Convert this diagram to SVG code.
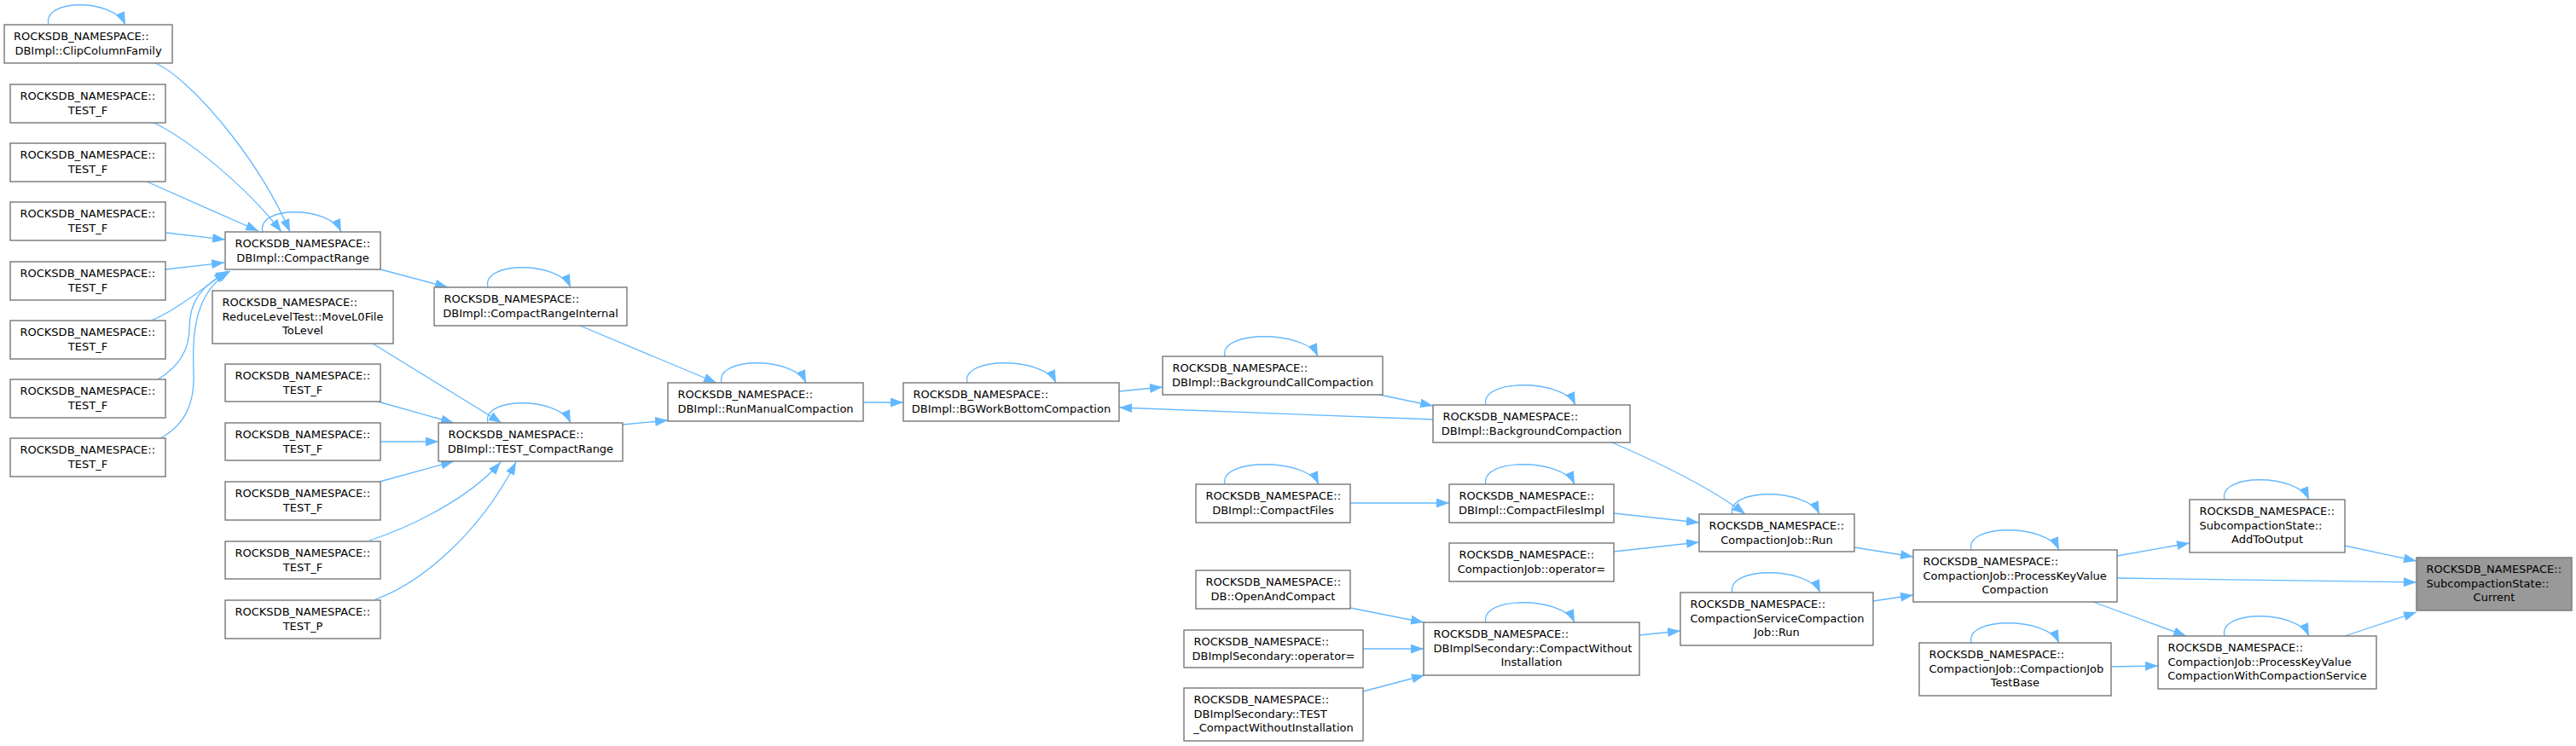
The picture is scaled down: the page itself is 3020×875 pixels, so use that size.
<svg xmlns="http://www.w3.org/2000/svg" width="3020" height="875" viewBox="0 0 3020 875">
<style>
.node rect{fill:#ffffff;stroke:#777777;stroke-width:1.4}
.node.hl rect{fill:#999999}
.node text{font-family:"DejaVu Sans","Liberation Sans",sans-serif;font-size:13px;fill:#000000}
.node text.c{text-anchor:middle}
.edges path{fill:none;stroke:#63b8ff;stroke-width:1.3;marker-end:url(#ah)}
</style>
<defs>
<marker id="ah" markerUnits="userSpaceOnUse" markerWidth="16" markerHeight="12" refX="15" refY="5.5" orient="auto"><path d="M0,0 L15,5.5 L0,11 z" fill="#63b8ff" stroke="none"/></marker>
</defs>
<rect x="0" y="0" width="3020" height="875" fill="#ffffff"/>
<g class="edges" id="connectors">
<!-- self loops -->
<path d="M57,29 C49,-2 133,-2 147,29"/>
<path d="M308,272 C300,241 386,241 400,272"/>
<path d="M572,337 C564,306 655,306 669,337"/>
<path d="M572,496 C564,465 655,465 669,496"/>
<path d="M846,449 C838,418 931,418 945,449"/>
<path d="M1134,449 C1126,418 1224,418 1238,449"/>
<path d="M1436,418 C1428,387 1531,387 1545,418"/>
<path d="M1742,475 C1734,444 1833,444 1847,475"/>
<path d="M1436,568 C1428,537 1532,537 1546,568"/>
<path d="M1742,568 C1734,537 1832,537 1846,568"/>
<path d="M1742,730 C1734,699 1832,699 1846,730"/>
<path d="M2031,603 C2023,572 2119,572 2133,603"/>
<path d="M2031,695 C2023,664 2120,664 2134,695"/>
<path d="M2311,645 C2303,614 2400,614 2414,645"/>
<path d="M2311,754 C2303,723 2400,723 2414,754"/>
<path d="M2608,586 C2600,555 2693,555 2707,586"/>
<path d="M2608,746 C2600,715 2693,715 2707,746"/>
<!-- into CompactRange -->
<path d="M182,74 C220,90 300,180 340,272"/>
<path d="M178,143 C220,162 290,220 330,272"/>
<path d="M172,213 L303,271"/>
<path d="M195,273 L264,281"/>
<path d="M194,316 L263,308"/>
<path d="M177,376 C200,367 230,345 266,318"/>
<path d="M185,445 C210,430 222,410 222,385 C222,355 235,335 268,318"/>
<path d="M188,514 C215,500 228,475 227,440 C226,400 224,345 270,318"/>
<!-- into TEST_CompactRange -->
<path d="M437,403 L588,496"/>
<path d="M443,471 L532,496"/>
<path d="M446,518 L514,518"/>
<path d="M445,565 L532,541"/>
<path d="M433,634 C470,622 545,590 587,542"/>
<path d="M440,703 C490,685 560,630 605,542"/>
<!-- middle chain -->
<path d="M446,316 L525,337"/>
<path d="M680,382 L840,449"/>
<path d="M730,498 L783,493"/>
<path d="M1012,472 L1059,472"/>
<path d="M1312,459 L1363,454"/>
<path d="M1617,463 L1680,476"/>
<path d="M1680,492 L1312,478"/>
<path d="M1890,519 C1950,545 2010,575 2046,603"/>
<path d="M1583,590 L1699,590"/>
<path d="M1892,602 L1992,613"/>
<path d="M1892,647 L1992,636"/>
<path d="M1583,713 L1669,730"/>
<path d="M1598,761 L1669,761"/>
<path d="M1598,811 L1670,792"/>
<path d="M1922,745 L1970,740"/>
<path d="M2174,642 L2243,653"/>
<path d="M2196,705 L2243,698"/>
<path d="M2475,782 L2530,781"/>
<path d="M2482,652 L2567,637"/>
<path d="M2482,678 L2833,683"/>
<path d="M2454,706 L2563,746"/>
<path d="M2749,640 L2833,658"/>
<path d="M2749,746 L2833,718"/>
</g>

<g class="node" id="n_clip"><rect x="5" y="29" width="197" height="45"/><text x="16" y="47">ROCKSDB_NAMESPACE::</text><text class="c" x="103.5" y="63.7">DBImpl::ClipColumnFamily</text></g>
<g class="node" id="n_tf1"><rect x="12" y="99" width="182" height="45"/><text x="23.5" y="117">ROCKSDB_NAMESPACE::</text><text class="c" x="103" y="133.7">TEST_F</text></g>
<g class="node" id="n_tf2"><rect x="12" y="168" width="182" height="45"/><text x="23.5" y="186">ROCKSDB_NAMESPACE::</text><text class="c" x="103" y="202.7">TEST_F</text></g>
<g class="node" id="n_tf3"><rect x="12" y="237" width="182" height="45"/><text x="23.5" y="255">ROCKSDB_NAMESPACE::</text><text class="c" x="103" y="271.7">TEST_F</text></g>
<g class="node" id="n_tf4"><rect x="12" y="307" width="182" height="45"/><text x="23.5" y="325">ROCKSDB_NAMESPACE::</text><text class="c" x="103" y="341.7">TEST_F</text></g>
<g class="node" id="n_tf5"><rect x="12" y="376" width="182" height="45"/><text x="23.5" y="394">ROCKSDB_NAMESPACE::</text><text class="c" x="103" y="410.7">TEST_F</text></g>
<g class="node" id="n_tf6"><rect x="12" y="445" width="182" height="45"/><text x="23.5" y="463">ROCKSDB_NAMESPACE::</text><text class="c" x="103" y="479.7">TEST_F</text></g>
<g class="node" id="n_tf7"><rect x="12" y="514" width="182" height="45"/><text x="23.5" y="532">ROCKSDB_NAMESPACE::</text><text class="c" x="103" y="548.7">TEST_F</text></g>

<g class="node" id="n_compactrange"><rect x="264" y="272" width="182" height="44"/><text x="275.5" y="290">ROCKSDB_NAMESPACE::</text><text class="c" x="355" y="306.7">DBImpl::CompactRange</text></g>
<g class="node" id="n_reducelevel"><rect x="249" y="341" width="212" height="62"/><text x="260.5" y="359">ROCKSDB_NAMESPACE::</text><text x="260.5" y="375.7">ReduceLevelTest::MoveL0File</text><text class="c" x="355" y="392.4">ToLevel</text></g>
<g class="node" id="n_tr1"><rect x="264" y="427" width="182" height="44"/><text x="275.5" y="445">ROCKSDB_NAMESPACE::</text><text class="c" x="355" y="461.7">TEST_F</text></g>
<g class="node" id="n_tr2"><rect x="264" y="496" width="182" height="44"/><text x="275.5" y="514">ROCKSDB_NAMESPACE::</text><text class="c" x="355" y="530.7">TEST_F</text></g>
<g class="node" id="n_tr3"><rect x="264" y="565" width="182" height="45"/><text x="275.5" y="583">ROCKSDB_NAMESPACE::</text><text class="c" x="355" y="599.7">TEST_F</text></g>
<g class="node" id="n_tr4"><rect x="264" y="635" width="182" height="44"/><text x="275.5" y="653">ROCKSDB_NAMESPACE::</text><text class="c" x="355" y="669.7">TEST_F</text></g>
<g class="node" id="n_testp"><rect x="264" y="704" width="182" height="45"/><text x="275.5" y="722">ROCKSDB_NAMESPACE::</text><text class="c" x="355" y="738.7">TEST_P</text></g>

<g class="node" id="n_cri"><rect x="509" y="337" width="226" height="45"/><text x="520.5" y="355">ROCKSDB_NAMESPACE::</text><text class="c" x="622" y="371.7">DBImpl::CompactRangeInternal</text></g>
<g class="node" id="n_tcr"><rect x="514" y="496" width="216" height="45"/><text x="525.5" y="514">ROCKSDB_NAMESPACE::</text><text class="c" x="622" y="530.7">DBImpl::TEST_CompactRange</text></g>
<g class="node" id="n_rmc"><rect x="783" y="449" width="229" height="45"/><text x="794.5" y="467">ROCKSDB_NAMESPACE::</text><text class="c" x="897.5" y="483.7">DBImpl::RunManualCompaction</text></g>
<g class="node" id="n_bgw"><rect x="1059" y="449" width="253" height="45"/><text x="1070.5" y="467">ROCKSDB_NAMESPACE::</text><text class="c" x="1185.5" y="483.7">DBImpl::BGWorkBottomCompaction</text></g>
<g class="node" id="n_bgc"><rect x="1363" y="418" width="258" height="45"/><text x="1374.5" y="436">ROCKSDB_NAMESPACE::</text><text class="c" x="1492" y="452.7">DBImpl::BackgroundCallCompaction</text></g>
<g class="node" id="n_bc"><rect x="1680" y="475" width="231" height="44"/><text x="1691.5" y="493">ROCKSDB_NAMESPACE::</text><text class="c" x="1795.5" y="509.7">DBImpl::BackgroundCompaction</text></g>
<g class="node" id="n_cf"><rect x="1402" y="568" width="181" height="45"/><text x="1413.5" y="586">ROCKSDB_NAMESPACE::</text><text class="c" x="1492.5" y="602.7">DBImpl::CompactFiles</text></g>
<g class="node" id="n_cfi"><rect x="1699" y="568" width="193" height="45"/><text x="1710.5" y="586">ROCKSDB_NAMESPACE::</text><text class="c" x="1795.5" y="602.7">DBImpl::CompactFilesImpl</text></g>
<g class="node" id="n_cjop"><rect x="1699" y="637" width="193" height="45"/><text x="1710.5" y="655">ROCKSDB_NAMESPACE::</text><text class="c" x="1795.5" y="671.7">CompactionJob::operator=</text></g>
<g class="node" id="n_run"><rect x="1992" y="603" width="182" height="44"/><text x="2003.5" y="621">ROCKSDB_NAMESPACE::</text><text class="c" x="2083" y="637.7">CompactionJob::Run</text></g>
<g class="node" id="n_oac"><rect x="1402" y="669" width="181" height="45"/><text x="1413.5" y="687">ROCKSDB_NAMESPACE::</text><text class="c" x="1492.5" y="703.7">DB::OpenAndCompact</text></g>
<g class="node" id="n_disop"><rect x="1388" y="739" width="210" height="44"/><text x="1399.5" y="757">ROCKSDB_NAMESPACE::</text><text class="c" x="1493" y="773.7">DBImplSecondary::operator=</text></g>
<g class="node" id="n_distest"><rect x="1388" y="807" width="210" height="62"/><text x="1399.5" y="825">ROCKSDB_NAMESPACE::</text><text x="1399.5" y="841.7">DBImplSecondary::TEST</text><text class="c" x="1493" y="858.4">_CompactWithoutInstallation</text></g>
<g class="node" id="n_cwi"><rect x="1669" y="730" width="253" height="62"/><text x="1680.5" y="748">ROCKSDB_NAMESPACE::</text><text x="1680.5" y="764.7">DBImplSecondary::CompactWithout</text><text class="c" x="1795.5" y="781.4">Installation</text></g>
<g class="node" id="n_cscj"><rect x="1970" y="695" width="226" height="62"/><text x="1981.5" y="713">ROCKSDB_NAMESPACE::</text><text x="1981.5" y="729.7">CompactionServiceCompaction</text><text class="c" x="2083" y="746.4">Job::Run</text></g>
<g class="node" id="n_pkvc"><rect x="2243" y="645" width="239" height="61"/><text x="2254.5" y="663">ROCKSDB_NAMESPACE::</text><text x="2254.5" y="679.7">CompactionJob::ProcessKeyValue</text><text class="c" x="2362.5" y="696.4">Compaction</text></g>
<g class="node" id="n_cjtb"><rect x="2250" y="754" width="225" height="62"/><text x="2261.5" y="772">ROCKSDB_NAMESPACE::</text><text x="2261.5" y="788.7">CompactionJob::CompactionJob</text><text class="c" x="2362.5" y="805.4">TestBase</text></g>
<g class="node" id="n_ato"><rect x="2567" y="586" width="182" height="62"/><text x="2578.5" y="604">ROCKSDB_NAMESPACE::</text><text x="2578.5" y="620.7">SubcompactionState::</text><text class="c" x="2658" y="637.4">AddToOutput</text></g>
<g class="node" id="n_pkvcwcs"><rect x="2530" y="746" width="256" height="62"/><text x="2541.5" y="764">ROCKSDB_NAMESPACE::</text><text x="2541.5" y="780.7">CompactionJob::ProcessKeyValue</text><text class="c" x="2658" y="797.4">CompactionWithCompactionService</text></g>
<g class="node hl" id="n_current"><rect x="2833" y="654" width="182" height="62"/><text x="2844.5" y="672">ROCKSDB_NAMESPACE::</text><text x="2844.5" y="688.7">SubcompactionState::</text><text class="c" x="2924" y="705.4">Current</text></g>
</svg>
